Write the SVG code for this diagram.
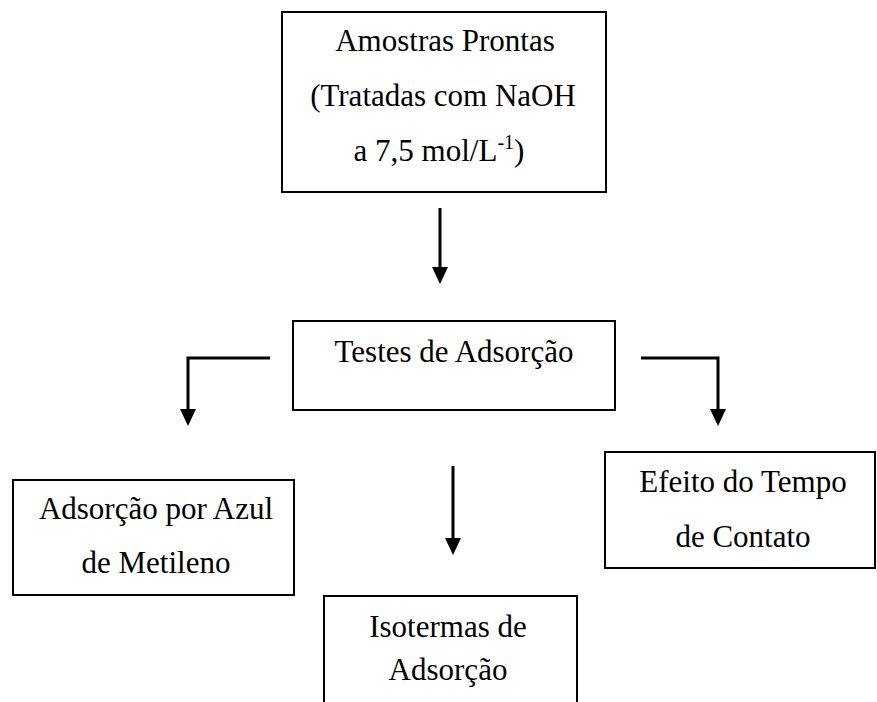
<svg xmlns="http://www.w3.org/2000/svg" width="877" height="702" viewBox="0 0 877 702">
<style>
.box{fill:#fff;stroke:#000;stroke-width:2}
.t{font-family:"Liberation Serif","Times New Roman",serif;font-size:31px;fill:#000;text-anchor:middle}
.ln{fill:none;stroke:#000;stroke-width:3}
.hd{fill:#000}
</style>
<rect width="877" height="702" fill="#fff"/>
<g id="connectors">
<line class="ln" x1="440" y1="208" x2="440" y2="270"/>
<polygon class="hd" points="432,267 448,267 440,284"/>
<polyline class="ln" points="270,358 188,358 188,412"/>
<polygon class="hd" points="180,409 196,409 188,426"/>
<polyline class="ln" points="641,358 718,358 718,412"/>
<polygon class="hd" points="710,409 726,409 718,426"/>
<line class="ln" x1="453" y1="466" x2="453" y2="541"/>
<polygon class="hd" points="445,538 461,538 453,555"/>
</g>
<g id="amostras">
<rect class="box" x="282" y="12" width="324" height="180"/>
<text class="t" x="445" y="51">Amostras Prontas</text>
<text class="t" x="443" y="106">(Tratadas com NaOH</text>
<text class="t" x="439" y="161">a 7,5 mol/L<tspan font-size="20" dy="-12">-1</tspan><tspan dy="12">)</tspan></text>
</g>
<g id="testes">
<rect class="box" x="293" y="321" width="322" height="89"/>
<text class="t" x="454" y="362">Testes de Adsorção</text>
</g>
<g id="azul">
<rect class="box" x="13" y="480" width="281" height="115"/>
<text class="t" x="156" y="519">Adsorção por Azul</text>
<text class="t" x="156" y="573">de Metileno</text>
</g>
<g id="tempo">
<rect class="box" x="605" y="452" width="270" height="116"/>
<text class="t" x="743" y="492">Efeito do Tempo</text>
<text class="t" x="743" y="547">de Contato</text>
</g>
<g id="isotermas">
<rect class="box" x="324" y="596" width="253" height="120"/>
<text class="t" x="448" y="637">Isotermas de</text>
<text class="t" x="448" y="680">Adsorção</text>
</g>
</svg>
